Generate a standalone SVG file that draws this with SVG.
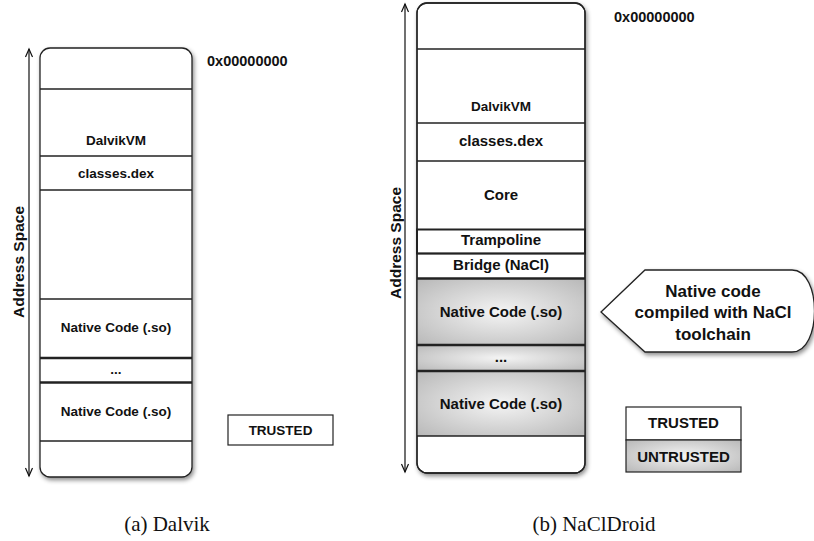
<svg xmlns="http://www.w3.org/2000/svg" width="814" height="541" viewBox="0 0 814 541">
<defs>
<filter id="sh" x="-10%" y="-10%" width="125%" height="125%">
<feDropShadow dx="1.5" dy="2.5" stdDeviation="2" flood-color="#000" flood-opacity="0.45"/>
</filter>
<radialGradient id="gr" cx="0.5" cy="0.5" r="0.75">
<stop offset="0" stop-color="#f4f4f4"/>
<stop offset="1" stop-color="#b4b4b4"/>
</radialGradient>
</defs>
<style>
.box{fill:#fff;stroke:#222;stroke-width:1.3}
.ln{stroke:#222;stroke-width:1.3;fill:none}
.tk{stroke:#222;stroke-width:2.6;fill:none}
.t{font-family:"Liberation Sans",Arial,sans-serif;font-weight:bold;fill:#111;text-anchor:middle}
.s13{font-size:13.5px}
.s15{font-size:15px}
.addr{font-family:"Liberation Sans",Arial,sans-serif;font-weight:bold;font-size:14.5px;fill:#111}
.cap{font-family:"Liberation Serif","Times New Roman",serif;font-size:21px;fill:#111;text-anchor:middle}
.ar{stroke:#111;stroke-width:1.2;fill:none}
</style>

<!-- (a) Dalvik -->
<g id="dalvik-stack">
<rect class="box" x="40" y="48" width="152" height="429" rx="10" filter="url(#sh)"/>
<line class="ln" x1="40" y1="89" x2="192" y2="89"/>
<line class="ln" x1="40" y1="156" x2="192" y2="156"/>
<line class="ln" x1="40" y1="190" x2="192" y2="190"/>
<line class="ln" x1="40" y1="299" x2="192" y2="299"/>
<line class="tk" x1="40" y1="358" x2="192" y2="358"/>
<line class="tk" x1="40" y1="382.5" x2="192" y2="382.5"/>
<line class="ln" x1="40" y1="441" x2="192" y2="441"/>
<text class="t s13" x="116" y="145">DalvikVM</text>
<text class="t s13" x="116" y="178">classes.dex</text>
<text class="t s13" x="116" y="332">Native Code (.so)</text>
<text class="t s13" x="116" y="374">...</text>
<text class="t s13" x="116" y="416">Native Code (.so)</text>
</g>
<g id="addr-a">
<text class="addr" x="207" y="66">0x00000000</text>
<text class="addr" transform="translate(24,318) rotate(-90)" style="font-size:15.5px">Address Space</text>
</g>
<g id="legend-a">
<rect x="228" y="415" width="105" height="30" fill="#fff" stroke="#222" stroke-width="1.2"/>
<text class="t s13" x="280.5" y="435">TRUSTED</text>
</g>

<!-- (b) NaClDroid -->
<g id="nacl-stack">
<rect class="box" x="417" y="3" width="168" height="470" rx="10" filter="url(#sh)"/>
<rect x="417" y="279" width="168" height="66" fill="url(#gr)"/>
<rect x="417" y="345" width="168" height="26" fill="url(#gr)"/>
<rect x="417" y="371" width="168" height="65" fill="url(#gr)"/>
<line class="ln" x1="417" y1="49" x2="585" y2="49"/>
<line class="ln" x1="417" y1="123" x2="585" y2="123"/>
<line class="ln" x1="417" y1="161" x2="585" y2="161"/>
<rect x="417" y="229.5" width="168" height="24" fill="none" stroke="#222" stroke-width="2"/>
<line class="ln" x1="417" y1="253.5" x2="585" y2="253.5"/>
<line class="tk" x1="417" y1="278.5" x2="585" y2="278.5"/>
<line class="tk" x1="417" y1="345" x2="585" y2="345"/>
<line class="tk" x1="417" y1="371" x2="585" y2="371"/>
<line class="ln" x1="417" y1="436" x2="585" y2="436"/>
<rect x="417" y="3" width="168" height="470" rx="10" fill="none" stroke="#222" stroke-width="1.3"/>
<text class="t s13" x="501" y="111">DalvikVM</text>
<text class="t s15" x="501" y="146">classes.dex</text>
<text class="t s15" x="501" y="200">Core</text>
<text class="t s15" x="501" y="245">Trampoline</text>
<text class="t s15" x="501" y="270">Bridge (NaCl)</text>
<text class="t s15" x="501" y="317">Native Code (.so)</text>
<text class="t s15" x="501" y="362">...</text>
<text class="t s15" x="501" y="409">Native Code (.so)</text>
</g>
<g id="addr-b">
<text class="addr" x="614" y="22">0x00000000</text>
<text class="addr" transform="translate(401,299) rotate(-90)" style="font-size:15.5px">Address Space</text>
</g>
<g id="callout">
<path d="M601,312 L645,270 L792,270 C822,270 822,352 792,352 L645,352 Z" fill="#fff" stroke="#222" stroke-width="1.3" filter="url(#sh)"/>
<text class="t" style="font-size:17px" x="713" y="297">Native code</text>
<text class="t" style="font-size:17px" x="713" y="318">compiled with NaCl</text>
<text class="t" style="font-size:17px" x="713" y="340">toolchain</text>
</g>
<g id="legend-b">
<rect x="626" y="407" width="115" height="33" fill="#fff" stroke="#222" stroke-width="1.2"/>
<rect x="626" y="440" width="115" height="32" fill="url(#gr)" stroke="#222" stroke-width="1.2"/>
<text class="t s15" x="683.5" y="428">TRUSTED</text>
<text class="t s15" x="683.5" y="462">UNTRUSTED</text>
</g>

<g id="connectors">
<line class="ar" x1="29" y1="49" x2="29" y2="476"/>
<path class="ar" d="M25.5,57 L29,49 L32.5,57 M25.5,468 L29,476 L32.5,468"/>
<line class="ar" x1="405" y1="4" x2="405" y2="472"/>
<path class="ar" d="M401.5,12 L405,4 L408.5,12 M401.5,464 L405,472 L408.5,464"/>
</g>

<g id="captions">
<text class="cap" x="167" y="531">(a) Dalvik</text>
<text class="cap" x="594" y="531">(b) NaClDroid</text>
</g>
</svg>
